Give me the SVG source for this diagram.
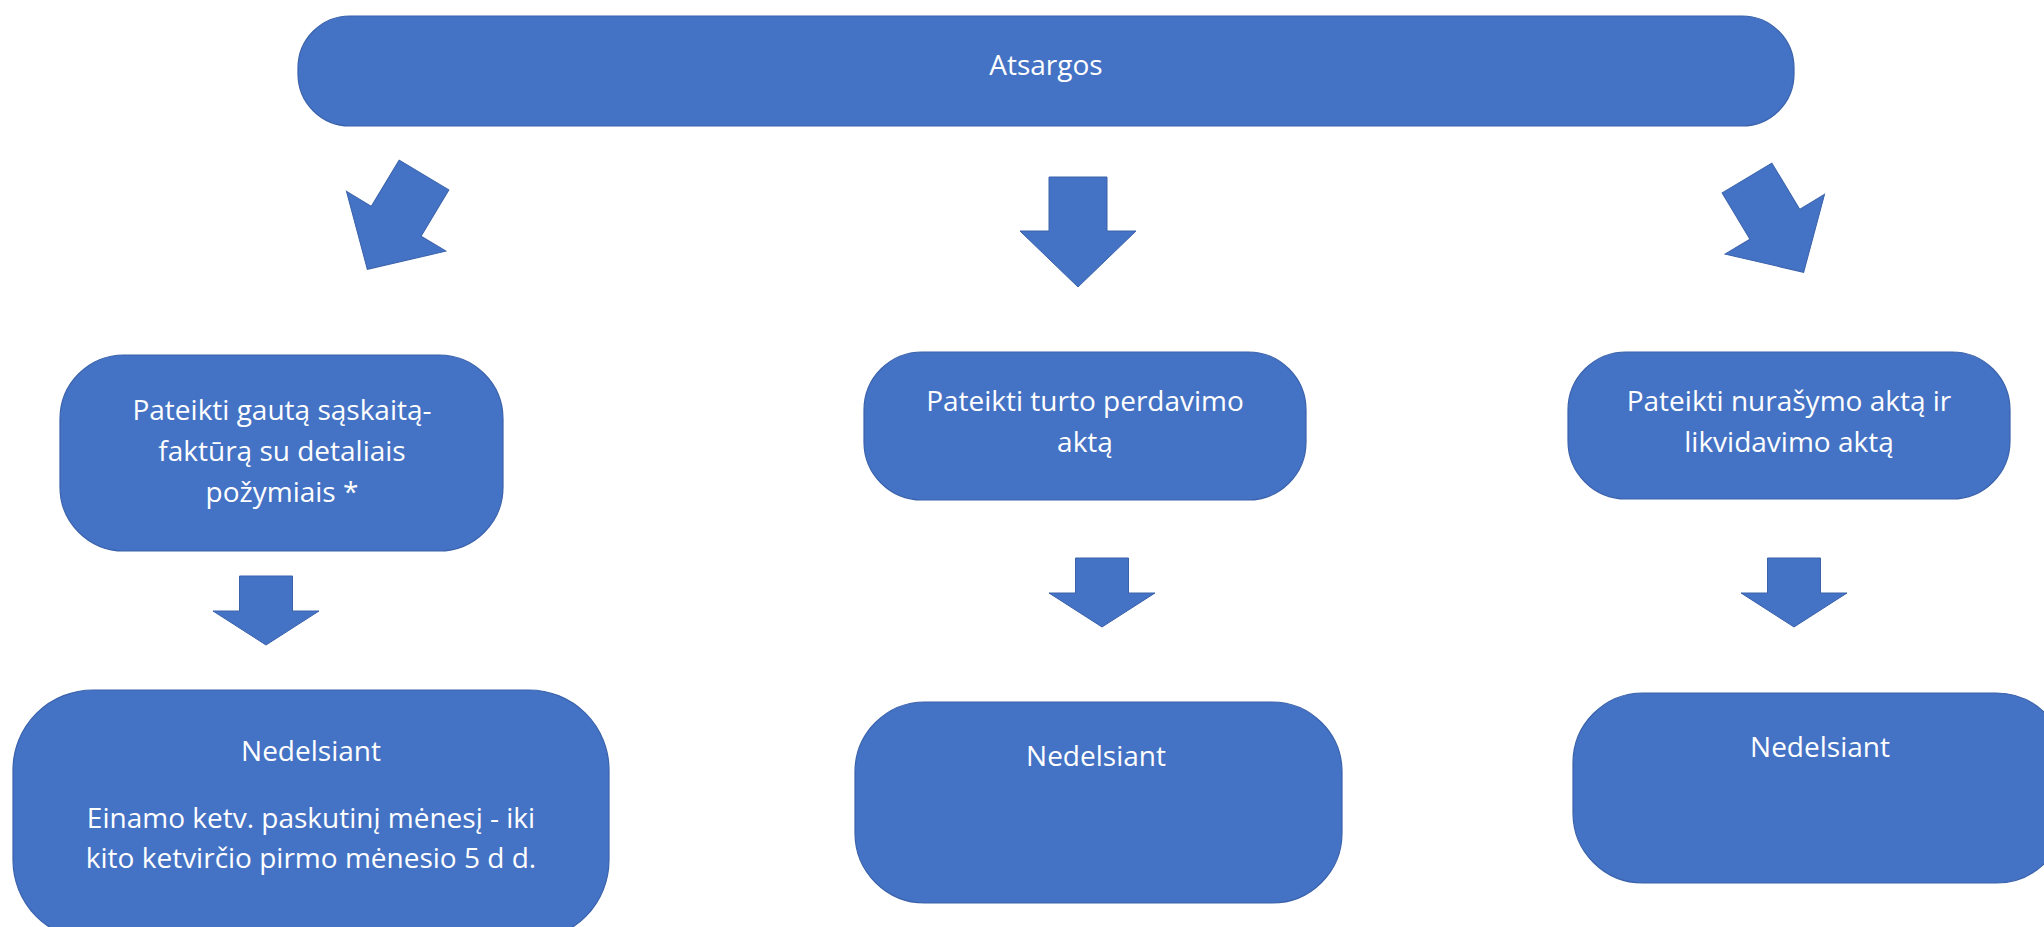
<svg xmlns="http://www.w3.org/2000/svg" xmlns:xlink="http://www.w3.org/1999/xlink" width="2044" height="927" viewBox="0 0 2044 927">
  <style>
    .box { fill: #4472C4; stroke: #3A62AC; stroke-width: 1.2; }
    .arrow { fill: #4472C4; stroke: #3A62AC; stroke-width: 1; stroke-linejoin: miter; }
    .lbl { font-family: "Open Sans", "Noto Sans", "DejaVu Sans", sans-serif; font-size: 28px; fill: #FFFFFF; text-anchor: middle; }
  </style>
  <defs>
    <!-- block arrow pointing down, origin at the middle of the shaft's tail -->
    <polygon id="bigArrow" points="-29,0 29,0 29,54 58,54 0,110 -58,54 -29,54"/>
    <polygon id="smallArrow" points="-26.5,0 26.5,0 26.5,35 53,35 0,69 -53,35 -26.5,35"/>
  </defs>

  <rect width="2044" height="927" fill="#FFFFFF"/>

  <g id="connectors">
    <use xlink:href="#bigArrow" class="arrow" transform="translate(424,175) rotate(31)"/>
    <use xlink:href="#bigArrow" class="arrow" transform="translate(1078,177)"/>
    <use xlink:href="#bigArrow" class="arrow" transform="translate(1747,178) rotate(-31)"/>
    <use xlink:href="#smallArrow" class="arrow" transform="translate(266,576)"/>
    <use xlink:href="#smallArrow" class="arrow" transform="translate(1102,558)"/>
    <use xlink:href="#smallArrow" class="arrow" transform="translate(1794,558)"/>
  </g>

  <g id="atsargos">
    <rect class="box" x="298" y="16" width="1496" height="110" rx="52" ry="52"/>
    <text class="lbl" x="1046" y="75">Atsargos</text>
  </g>

  <g id="saskaita">
    <rect class="box" x="60" y="355" width="443" height="196" rx="64" ry="64"/>
    <text class="lbl" x="282" y="420">Pateikti gautą sąskaitą-</text>
    <text class="lbl" x="282" y="461">faktūrą su detaliais</text>
    <text class="lbl" x="282" y="502">požymiais *</text>
  </g>

  <g id="perdavimas">
    <rect class="box" x="864" y="352" width="442" height="148" rx="58" ry="58"/>
    <text class="lbl" x="1085" y="411">Pateikti turto perdavimo</text>
    <text class="lbl" x="1085" y="452">aktą</text>
  </g>

  <g id="nurasymas">
    <rect class="box" x="1568" y="352" width="442" height="147" rx="58" ry="58"/>
    <text class="lbl" x="1789" y="411">Pateikti nurašymo aktą ir</text>
    <text class="lbl" x="1789" y="452">likvidavimo aktą</text>
  </g>

  <g id="terminas-saskaita">
    <rect class="box" x="13" y="690" width="596" height="250" rx="80" ry="80"/>
    <text class="lbl" x="311" y="761">Nedelsiant</text>
    <text class="lbl" x="311" y="828">Einamo ketv. paskutinį mėnesį - iki</text>
    <text class="lbl" x="311" y="868">kito ketvirčio pirmo mėnesio 5 d d.</text>
  </g>

  <g id="terminas-perdavimas">
    <rect class="box" x="855" y="702" width="487" height="201" rx="70" ry="70"/>
    <text class="lbl" x="1096" y="766">Nedelsiant</text>
  </g>

  <g id="terminas-nurasymas">
    <rect class="box" x="1573" y="693" width="493" height="190" rx="70" ry="70"/>
    <text class="lbl" x="1820" y="757">Nedelsiant</text>
  </g>
</svg>
